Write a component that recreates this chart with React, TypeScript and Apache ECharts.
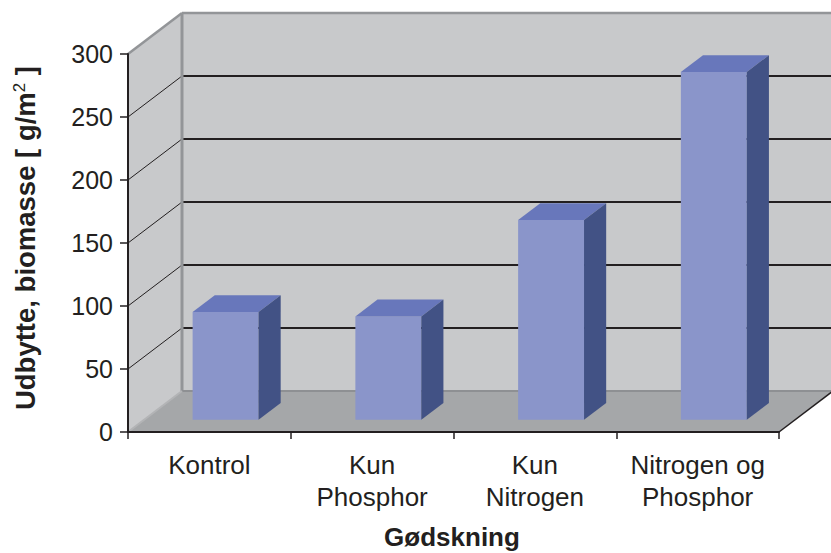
import React, { useEffect, useRef } from "react";
import * as echarts from "echarts";

const categories = ["Kontrol", "Kun\nPhosphor", "Kun\nNitrogen", "Nitrogen og\nPhosphor"];
const biomass = [85.5, 82, 158.5, 276];
const yTicks = [0, 50, 100, 150, 200, 250, 300];
const yTitle = "Udbytte, biomasse [ g/m{sup|2} ]";
const xTitle = "Gødskning";

const FONT = "'Liberation Sans', Arial, Helvetica, sans-serif";
const TXT = "#231f20";
const DEPTH = [54, -41];
const BAR_FRONT = 0.3;
const BAR_BACK = 0.71;
const BAR_W = 0.405;

export default function App() {
  const ref = useRef<HTMLDivElement>(null);
  useEffect(() => {
    if (!ref.current) return;
    const chart = echarts.init(ref.current, undefined, { renderer: "svg" });
    const yMin = yTicks[0];
    const yMax = yTicks[yTicks.length - 1];
    const step = yTicks[1] - yTicks[0];

    const wallsRender = (params: any, api: any) => {
      const cs = params.coordSys;
      const L = cs.x, R = cs.x + cs.width, T = cs.y, B = cs.y + cs.height;
      const [dx, dy] = DEPTH;
      const children: any[] = [];
      children.push({ type: "polygon", shape: { points: [[L, B], [L, T], [L + dx, T + dy], [L + dx, B + dy]] }, style: { fill: "#c8c9cb" } });
      children.push({ type: "polygon", shape: { points: [[L + dx, T + dy], [R + dx, T + dy], [R + dx, B + dy], [L + dx, B + dy]] }, style: { fill: "#c8c9cb" } });
      children.push({ type: "polygon", shape: { points: [[L, B], [L + dx, B + dy], [R + dx, B + dy], [R, B]] }, style: { fill: "#a5a7a9" } });
      yTicks.forEach((v) => {
        if (v === yMin || v === yMax) return;
        const y = api.coord([0, v])[1];
        children.push({ type: "line", shape: { x1: L, y1: y, x2: L + dx, y2: y + dy }, style: { stroke: TXT, lineWidth: 1 } });
        children.push({ type: "line", shape: { x1: L + dx, y1: y + dy, x2: R + dx, y2: y + dy }, style: { stroke: TXT, lineWidth: 2 } });
      });
      children.push({ type: "line", shape: { x1: L, y1: T, x2: L + dx, y2: T + dy }, style: { stroke: "#939598", lineWidth: 2.5 } });
      children.push({ type: "line", shape: { x1: L + dx, y1: T + dy, x2: R + dx, y2: T + dy }, style: { stroke: "#939598", lineWidth: 2.5 } });
      children.push({ type: "line", shape: { x1: L + dx, y1: T + dy, x2: L + dx, y2: B + dy }, style: { stroke: "#939598", lineWidth: 3 } });
      children.push({ type: "line", shape: { x1: L + dx, y1: B + dy, x2: R + dx, y2: B + dy }, style: { stroke: "#8e9093", lineWidth: 2 } });
      children.push({ type: "line", shape: { x1: L, y1: B, x2: L + dx, y2: B + dy }, style: { stroke: "#b3b4b6", lineWidth: 2 } });
      children.push({ type: "line", shape: { x1: R, y1: B, x2: R + dx, y2: B + dy }, style: { stroke: TXT, lineWidth: 1.5 } });
      return { type: "group", children };
    };

    const barRender = (params: any, api: any) => {
      const idx = api.value(0);
      const val = api.value(1);
      const top = api.coord([idx, val]);
      const base = api.coord([idx, 0]);
      const band = api.size([1, 0])[0];
      const w = band * BAR_W;
      const fdx = DEPTH[0] * BAR_FRONT, fdy = DEPTH[1] * BAR_FRONT;
      const bdx = DEPTH[0] * (BAR_BACK - BAR_FRONT), bdy = DEPTH[1] * (BAR_BACK - BAR_FRONT);
      const x1 = top[0] - w / 2 + fdx;
      const x2 = x1 + w;
      const yt = top[1] + fdy;
      const yb = base[1] + fdy;
      return {
        type: "group",
        children: [
          { type: "polygon", shape: { points: [[x1, yt], [x2, yt], [x2, yb], [x1, yb]] }, style: { fill: "#8a95ca" } },
          { type: "polygon", shape: { points: [[x1, yt], [x2, yt], [x2 + bdx, yt + bdy], [x1 + bdx, yt + bdy]] }, style: { fill: "#6877bb" } },
          { type: "polygon", shape: { points: [[x2, yt], [x2 + bdx, yt + bdy], [x2 + bdx, yb + bdy], [x2, yb]] }, style: { fill: "#425285" } },
        ],
      };
    };

    chart.setOption({
      animation: false,
      backgroundColor: "#ffffff",
      textStyle: { fontFamily: FONT },
      grid: { left: 128, right: 52, top: 54, bottom: 121, containLabel: false },
      xAxis: {
        type: "category",
        data: categories,
        z: 10,
        axisLine: { lineStyle: { color: TXT, width: 2 } },
        axisTick: { show: true, length: 7, lineStyle: { color: TXT, width: 1.5 } },
        axisLabel: { color: TXT, fontSize: 26, lineHeight: 32, margin: 17, fontFamily: FONT, interval: 0 },
        splitLine: { show: false },
      },
      yAxis: {
        type: "value",
        min: yMin,
        max: yMax,
        interval: step,
        z: 10,
        axisLine: { show: true, lineStyle: { color: TXT, width: 2 } },
        axisTick: { show: true, length: 8, lineStyle: { color: TXT, width: 1.5 } },
        axisLabel: { color: TXT, fontSize: 25, margin: 15, fontFamily: FONT },
        splitLine: { show: false },
      },
      graphic: [
        {
          type: "text",
          x: 25,
          y: 238,
          rotation: Math.PI / 2,
          style: {
            text: yTitle,
            fill: TXT,
            fontWeight: "bold",
            fontSize: 27.5,
            fontFamily: FONT,
            align: "center",
            verticalAlign: "middle",
            rich: {
              sup: { fontSize: 17, fontWeight: "normal", fontFamily: FONT, fill: TXT, verticalAlign: "top", padding: [0, 0, 12, 0] },
            },
          },
        },
        {
          type: "text",
          x: 452,
          y: 537,
          style: {
            text: xTitle,
            fill: TXT,
            fontWeight: "bold",
            fontSize: 26,
            fontFamily: FONT,
            align: "center",
            verticalAlign: "middle",
          },
        },
      ],
      series: [
        { type: "custom", renderItem: wallsRender, data: [[0, 0]], z: 1, silent: true },
        { type: "custom", renderItem: barRender, data: biomass.map((v, i) => [i, v]), z: 2, silent: true },
      ],
    });
    return () => chart.dispose();
  }, []);
  return <div ref={ref} style={{ position: "fixed", left: 0, top: 0, width: 831, height: 553, background: "#fff" }} />;
}
